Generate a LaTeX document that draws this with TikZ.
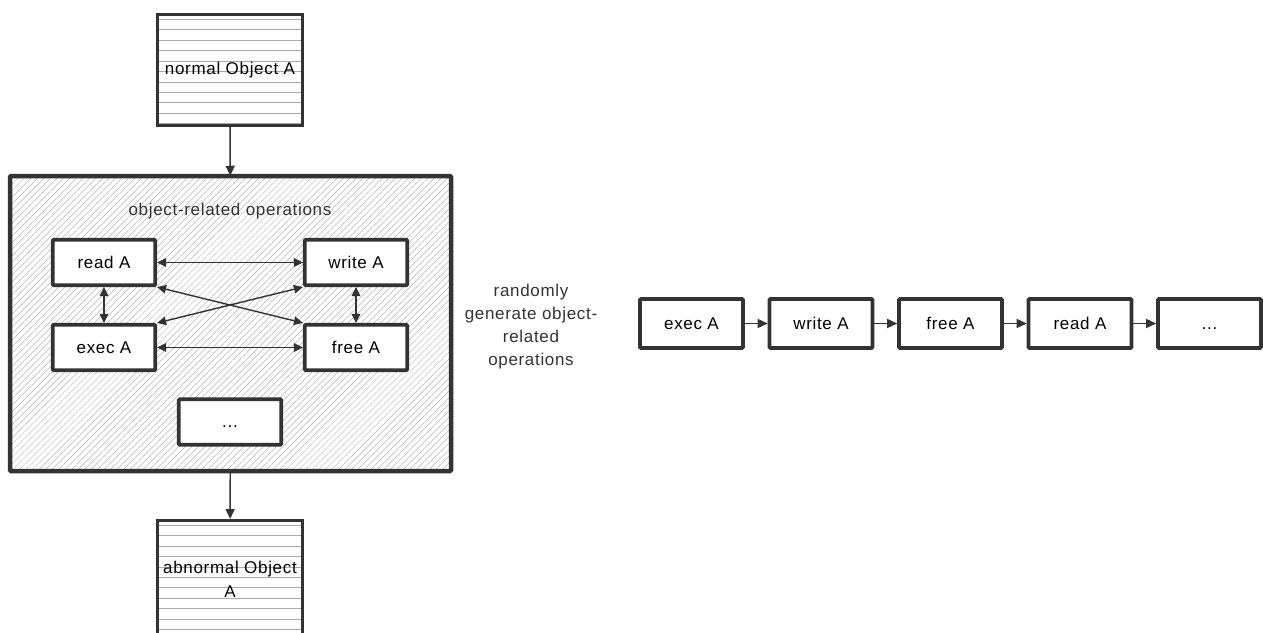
\documentclass[tikz,border=0pt]{standalone}
\usepackage{fontspec}
\setmainfont{Liberation Sans}[LetterSpace=4]
\usetikzlibrary{arrows.meta,patterns.meta}
\definecolor{bd}{HTML}{333333}
\definecolor{stripe}{HTML}{AAAAAA}
\definecolor{hatch}{HTML}{B4B4B4}
\tikzset{
  opbox/.style={draw=bd, fill=white, line width=3.6pt, rounded corners=1pt,
    minimum width=102.5pt, minimum height=45.5pt, inner sep=0pt,
    text height=11pt, text depth=0pt,
    font=\fontsize{17}{22}\selectfont},
  chainbox/.style={opbox, minimum width=103pt, minimum height=49pt},
  objbox/.style={draw=bd, fill=white, line width=2.8pt,
    minimum width=145pt, minimum height=111pt, inner sep=0pt, align=center,
    font=\fontsize{17}{24}\selectfont,
    path picture={
      \foreach \i in {0,...,11}{
        \draw[stripe, line width=1pt]
          ([yshift=-4.8pt-10.45pt*\i]path picture bounding box.north west) --
          ([yshift=-4.8pt-10.45pt*\i]path picture bounding box.north east);
      }
    }},
  bigbox/.style={draw=bd, line width=4.5pt, rounded corners=1pt,
    minimum width=441pt, minimum height=295pt, inner sep=0pt,
    pattern={Lines[angle=45,distance=4.6pt,line width=0.5pt]}, pattern color=hatch},
  conn/.style={draw=bd, line width=1.4pt},
  tip/.style={-{Triangle[length=10pt,width=9pt]}},
  bitip/.style={{Triangle[length=9pt,width=8.5pt]}-{Triangle[length=9pt,width=8.5pt]}},
  lbl/.style={font=\fontsize{17}{23}\selectfont, text=bd, align=center}
}
\begin{document}
\begin{tikzpicture}[x=1pt,y=-1pt]
\useasboundingbox (0,0) rectangle (1263,632);
% left part
\node[objbox] (normal) at (230,70) {normal Object A};
\node[bigbox] (ops) at (230.5,323.5) {};
\node[lbl] (opslbl) at (230,211) {object-related operations};
\node[opbox] (read) at (104,262.5) {read A};
\node[opbox] (write) at (356,262.5) {write A};
\node[opbox] (exec) at (104,347.5) {exec A};
\node[opbox] (free) at (356,347.5) {free A};
\node[opbox] (more) at (230,422) {...};
\node[objbox, minimum height=118pt] (abnormal) at (230,579.4) {abnormal Object\\A};

\draw[conn,tip] (normal) -- (ops);
\draw[conn,tip] (ops) -- (abnormal);
\draw[conn,bitip] (read) -- (write);
\draw[conn,bitip] (exec) -- (free);
\draw[conn,bitip] (read) -- (exec);
\draw[conn,bitip] (write) -- (free);
\draw[conn,bitip] (read.south east) -- (free.north west);
\draw[conn,bitip] (write.south west) -- (exec.north east);

% middle label
\node[lbl] (rand) at (531,327) {randomly\\generate object-\\related\\operations};

% right chain
\node[chainbox] (c1) at (691.5,323.5) {exec A};
\node[chainbox] (c2) at (821,323.5) {write A};
\node[chainbox] (c3) at (950.5,323.5) {free A};
\node[chainbox] (c4) at (1080,323.5) {read A};
\node[chainbox] (c5) at (1209.5,323.5) {...};
\draw[conn,tip] (c1) -- (c2);
\draw[conn,tip] (c2) -- (c3);
\draw[conn,tip] (c3) -- (c4);
\draw[conn,tip] (c4) -- (c5);
\end{tikzpicture}
\end{document}
